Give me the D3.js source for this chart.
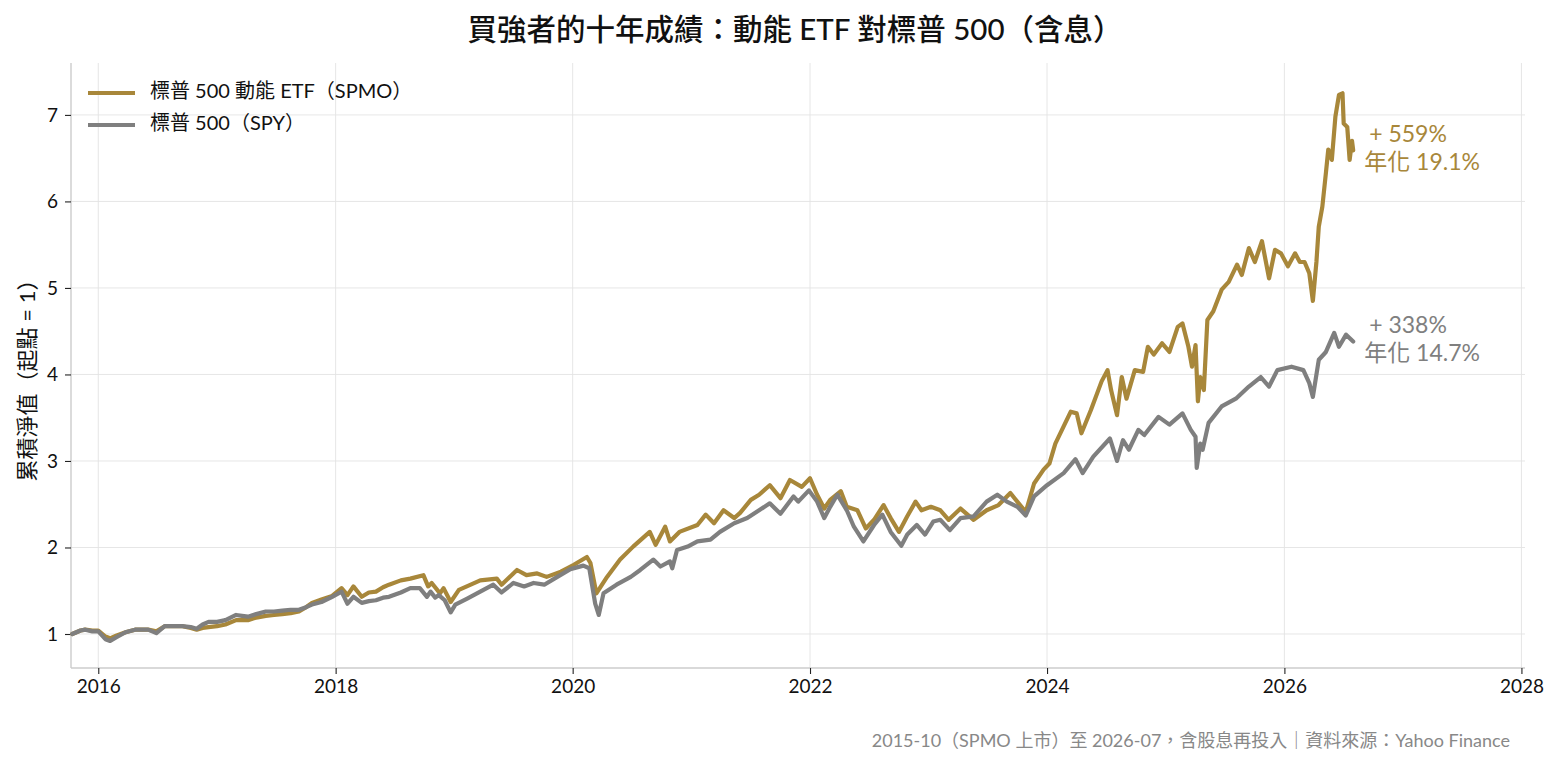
<!DOCTYPE html>
<html>
<head>
<meta charset="utf-8">
<script src="https://cdn.jsdelivr.net/npm/d3@7"></script>
<style>
  body { margin: 0; background: #fff; }
  svg { display: block; font-family: Lato, "Noto Sans CJK TC", sans-serif; }
</style>
</head>
<body>
<svg id="chart" width="1559" height="765"></svg>
<script>
// dates (decimal years) + cumulative value
const spmoT = [2015.78,2015.85,2015.89,2015.95,2016.00,2016.06,2016.10,2016.15,2016.23,2016.31,2016.42,2016.49,2016.56,2016.64,2016.71,2016.78,2016.83,2016.88,2016.93,2017.00,
  2017.07,2017.16,2017.21,2017.26,2017.33,2017.41,2017.48,2017.55,2017.62,2017.69,2017.75,2017.80,2017.88,2017.97,2018.05,2018.10,2018.15,2018.22,2018.28,2018.34,
  2018.40,2018.45,2018.55,2018.63,2018.74,2018.78,2018.81,2018.88,2018.91,2018.97,2019.04,2019.14,2019.22,2019.36,2019.40,2019.53,2019.61,2019.70,2019.78,2019.90,
  2020.01,2020.12,2020.15,2020.20,2020.29,2020.40,2020.51,2020.65,2020.70,2020.78,2020.82,2020.90,2021.05,2021.12,2021.19,2021.27,2021.36,2021.41,2021.50,2021.57,
  2021.66,2021.75,2021.83,2021.93,2022.00,2022.06,2022.12,2022.17,2022.26,2022.31,2022.40,2022.47,2022.54,2022.62,2022.68,2022.75,2022.82,2022.89,2022.94,2023.02,
  2023.10,2023.17,2023.27,2023.38,2023.49,2023.59,2023.69,2023.76,2023.82,2023.89,2023.97,2024.02,2024.07,2024.14,2024.20,2024.25,2024.29,2024.37,2024.46,2024.51,
  2024.54,2024.59,2024.63,2024.67,2024.74,2024.81,2024.85,2024.90,2024.97,2025.03,2025.10,2025.14,2025.19,2025.22,2025.25,2025.27,2025.29,2025.32,2025.35,2025.40,
  2025.47,2025.53,2025.60,2025.64,2025.70,2025.75,2025.81,2025.87,2025.92,2025.97,2026.03,2026.09,2026.13,2026.17,2026.21,2026.24,2026.27,2026.29,2026.32,2026.35,
  2026.37,2026.40,2026.43,2026.46,2026.49,2026.50,2026.53,2026.55,2026.57,2026.58];
const spmoV = [1.00,1.04,1.05,1.04,1.04,0.97,0.95,0.98,1.02,1.05,1.05,1.03,1.09,1.09,1.09,1.07,1.05,1.07,1.08,1.09,
  1.11,1.16,1.16,1.16,1.19,1.21,1.22,1.23,1.24,1.26,1.31,1.36,1.40,1.44,1.53,1.45,1.55,1.43,1.48,1.49,
  1.54,1.57,1.62,1.64,1.68,1.55,1.59,1.47,1.53,1.37,1.51,1.57,1.62,1.64,1.57,1.74,1.68,1.70,1.66,1.72,
  1.80,1.89,1.82,1.47,1.66,1.86,2.01,2.18,2.03,2.24,2.07,2.18,2.26,2.38,2.28,2.43,2.34,2.40,2.55,2.61,
  2.72,2.57,2.78,2.70,2.80,2.61,2.45,2.55,2.65,2.47,2.43,2.22,2.32,2.49,2.34,2.18,2.36,2.53,2.43,2.47,
  2.43,2.32,2.45,2.32,2.43,2.49,2.63,2.51,2.41,2.74,2.90,2.97,3.20,3.40,3.57,3.55,3.32,3.59,3.92,4.05,
  3.82,3.53,3.97,3.72,4.05,4.03,4.32,4.23,4.36,4.26,4.55,4.59,4.32,4.09,4.34,3.69,3.97,3.82,4.63,4.73,
  4.98,5.07,5.27,5.15,5.46,5.30,5.54,5.11,5.44,5.40,5.25,5.40,5.30,5.30,5.17,4.85,5.30,5.71,5.94,6.33,
  6.60,6.48,6.98,7.23,7.25,6.90,6.86,6.48,6.70,6.59];

const spyT = [2015.78,2015.85,2015.89,2015.95,2016.00,2016.06,2016.10,2016.15,2016.23,2016.31,2016.42,2016.49,2016.56,2016.64,2016.71,2016.78,2016.83,2016.88,2016.93,2017.00,
  2017.07,2017.16,2017.21,2017.26,2017.33,2017.41,2017.48,2017.55,2017.62,2017.69,2017.75,2017.80,2017.88,2017.97,2018.05,2018.10,2018.15,2018.22,2018.28,2018.34,
  2018.40,2018.45,2018.55,2018.63,2018.71,2018.77,2018.80,2018.84,2018.87,2018.92,2018.97,2019.01,2019.11,2019.22,2019.33,2019.40,2019.50,2019.59,2019.67,2019.76,
  2019.87,2019.98,2020.09,2020.14,2020.19,2020.22,2020.26,2020.37,2020.49,2020.57,2020.68,2020.74,2020.82,2020.84,2020.88,2020.97,2021.05,2021.16,2021.24,2021.36,
  2021.47,2021.57,2021.66,2021.75,2021.86,2021.90,2021.99,2022.06,2022.12,2022.17,2022.23,2022.31,2022.37,2022.45,2022.54,2022.61,2022.68,2022.77,2022.82,2022.90,
  2022.97,2023.04,2023.10,2023.18,2023.27,2023.38,2023.49,2023.58,2023.66,2023.75,2023.82,2023.89,2024.00,2024.14,2024.24,2024.30,2024.39,2024.53,2024.59,2024.64,
  2024.69,2024.77,2024.82,2024.94,2025.03,2025.14,2025.21,2025.25,2025.26,2025.29,2025.31,2025.36,2025.47,2025.59,2025.70,2025.80,2025.87,2025.94,2026.06,2026.16,
  2026.21,2026.24,2026.29,2026.35,2026.42,2026.46,2026.52,2026.58];
const spyV = [1.00,1.04,1.05,1.03,1.03,0.94,0.92,0.96,1.02,1.05,1.05,1.01,1.09,1.09,1.09,1.08,1.06,1.11,1.14,1.14,
  1.16,1.22,1.21,1.20,1.23,1.26,1.26,1.27,1.28,1.28,1.31,1.34,1.37,1.43,1.49,1.35,1.43,1.36,1.38,1.39,
  1.42,1.43,1.48,1.53,1.53,1.43,1.49,1.42,1.45,1.39,1.25,1.34,1.41,1.49,1.57,1.48,1.59,1.55,1.59,1.57,
  1.66,1.75,1.79,1.76,1.35,1.22,1.47,1.57,1.66,1.74,1.86,1.78,1.84,1.76,1.97,2.01,2.07,2.09,2.18,2.28,
  2.34,2.43,2.51,2.39,2.59,2.53,2.66,2.53,2.34,2.47,2.61,2.43,2.24,2.07,2.26,2.38,2.18,2.02,2.15,2.26,
  2.15,2.30,2.32,2.20,2.34,2.36,2.53,2.61,2.53,2.47,2.37,2.59,2.72,2.86,3.02,2.86,3.05,3.26,3.00,3.24,
  3.13,3.36,3.30,3.51,3.42,3.55,3.36,3.28,2.92,3.20,3.13,3.44,3.63,3.72,3.86,3.97,3.86,4.05,4.09,4.05,
  3.90,3.74,4.17,4.26,4.48,4.32,4.46,4.38];

const seriesNames = ["標普 500 動能 ETF（SPMO）", "標普 500（SPY）"];
const seriesColors = ["#a8873a", "#7f7f7f"];
const yTicks = [1, 2, 3, 4, 5, 6, 7];
const xTickYears = [2016, 2018, 2020, 2022, 2024, 2026, 2028];

function toDate(t) {
  const yr = Math.floor(t);
  return new Date(new Date(yr, 0, 1).getTime() + (t - yr) * 365.25 * 864e5);
}

const svg = d3.select("#chart");
const mLeft = 71, mRight = 1525, mTop = 63, mBottom = 668;

const x = d3.scaleTime()
  .domain([new Date(2015, 9, 9), new Date(2028, 0, 12)])
  .range([mLeft, mRight]);
const y = d3.scaleLinear().domain([0.607, 7.6]).range([mBottom, mTop]);

// grid
svg.append("g").selectAll("line").data(xTickYears).join("line")
  .attr("x1", d => x(new Date(d, 0, 1))).attr("x2", d => x(new Date(d, 0, 1)))
  .attr("y1", mTop).attr("y2", mBottom)
  .attr("stroke", "#e3e3e3").attr("stroke-width", 0.9);
svg.append("g").selectAll("line").data(yTicks).join("line")
  .attr("x1", mLeft).attr("x2", mRight)
  .attr("y1", d => y(d)).attr("y2", d => y(d))
  .attr("stroke", "#e3e3e3").attr("stroke-width", 0.9);

// axes
const xAxis = svg.append("g").attr("transform", `translate(0,${mBottom})`)
  .call(d3.axisBottom(x).tickValues(xTickYears.map(d => new Date(d, 0, 1)))
    .tickFormat(d3.timeFormat("%Y")).tickSizeOuter(0).tickSize(6).tickPadding(6));
const yAxis = svg.append("g").attr("transform", `translate(${mLeft},0)`)
  .call(d3.axisLeft(y).tickValues(yTicks).tickFormat(d3.format("d"))
    .tickSizeOuter(0).tickSize(6).tickPadding(7));
[xAxis, yAxis].forEach(a => {
  a.select(".domain").attr("stroke", "#cccccc").attr("stroke-width", 1.4);
  a.selectAll(".tick line").attr("stroke", "#222").attr("stroke-width", 1.1);
  a.selectAll(".tick text").attr("fill", "#111").style("font-size", "19px")
    .style("font-family", "Lato, 'Noto Sans CJK TC', sans-serif");
});
xAxis.select(".domain").attr("d", `M${mLeft},0H${mRight}`);
yAxis.select(".domain").attr("d", `M0,${mTop}V${mBottom}`);

// lines
const line = d3.line().x(d => x(d[0])).y(d => y(d[1]));
const series = [
  spmoT.map((t, i) => [toDate(t), spmoV[i]]),
  spyT.map((t, i) => [toDate(t), spyV[i]])
];
series.forEach((s, i) => {
  svg.append("path").datum(s)
    .attr("d", line).attr("fill", "none")
    .attr("stroke", seriesColors[i]).attr("stroke-width", 4.2)
    .attr("stroke-linejoin", "round").attr("stroke-linecap", "round");
});

// end labels
const tRaw = [spmoT, spyT];
const vRaw = [spmoV, spyV];
series.forEach((s, i) => {
  const last = s[s.length - 1];
  const years = tRaw[i][tRaw[i].length - 1] - tRaw[i][0];
  const total = (vRaw[i][vRaw[i].length - 1] - 1) * 100;
  const cagr = (Math.pow(vRaw[i][vRaw[i].length - 1], 1 / years) - 1) * 100;
  const g = svg.append("g").attr("fill", seriesColors[i]).style("font-size", "23px");
  const lx = x(last[0]) + 11, ly = y(last[1]);
  g.append("text").attr("x", lx + 5).attr("y", ly - 14).attr("dominant-baseline", "middle")
    .text("+ " + Math.round(total) + "%");
  g.append("text").attr("x", lx).attr("y", ly + 14).attr("dominant-baseline", "middle")
    .text("年化 " + cagr.toFixed(1) + "%");
});

// legend
const lg = svg.append("g");
seriesNames.forEach((n, i) => {
  const ly = 93 + i * 32;
  lg.append("line").attr("x1", 88).attr("x2", 135).attr("y1", ly).attr("y2", ly)
    .attr("stroke", seriesColors[i]).attr("stroke-width", 4);
  lg.append("text").attr("x", 150).attr("y", ly).attr("dominant-baseline", "middle")
    .attr("fill", "#111").style("font-size", "20px").text(n);
});

// title, axis label, footer
svg.append("text").attr("x", 795).attr("y", 32).attr("text-anchor", "middle")
  .attr("dominant-baseline", "middle").attr("fill", "#111")
  .style("font-size", "29.5px").style("font-weight", "500")
  .text("買強者的十年成績：動能 ETF 對標普 500（含息）");
svg.append("text").attr("transform", "translate(29,375) rotate(-90)")
  .attr("text-anchor", "middle").attr("dominant-baseline", "middle")
  .attr("fill", "#111").style("font-size", "22px")
  .text("累積淨值（起點 = 1）");
svg.append("text").attr("x", 1510).attr("y", 742).attr("text-anchor", "end")
  .attr("dominant-baseline", "middle").attr("fill", "#888")
  .style("font-size", "18px")
  .text("2015-10（SPMO 上市）至 2026-07，含股息再投入｜資料來源：Yahoo Finance");
</script>
</body>
</html>
